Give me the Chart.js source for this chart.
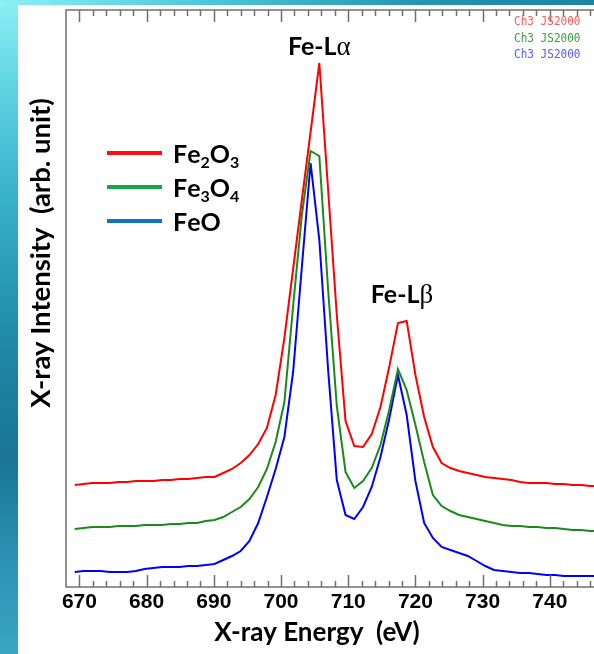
<!DOCTYPE html>
<html>
<head>
<meta charset="utf-8">
<script src="https://cdn.jsdelivr.net/npm/chart.js@4.4.1/dist/chart.umd.min.js"></script>
<style>
    html, body { margin: 0; padding: 0; }
    body {
        width: 594px; height: 654px; overflow: hidden; position: relative;
        background: linear-gradient(to bottom, #8cf0f5 0%, #63d6e4 12%, #38b2ca 30%, #2089a8 52%, #1a7495 70%, #2c93b6 86%, #3aa5c5 100%);
    }
    #topStrip {
        position: absolute; left: 0; top: 0; width: 594px; height: 5px;
        background: linear-gradient(to right, #8cf0f5 0%, #4cc6da 35%, #2596b0 70%, #1c84a2 100%);
    }
    #panel { position: absolute; left: 18px; top: 5px; width: 576px; height: 649px; background: #ffffff; }
    #spectrumChart { position: absolute; left: 0; top: 0; }
</style>
</head>
<body>
<div id="topStrip"></div>
<div id="panel"></div>
<canvas id="spectrumChart" width="640" height="654"></canvas>
<script>
// X-ray energy (eV) of each sample
const energy = [669.3, 670.6, 671.9, 673.2, 674.5, 675.8, 677.1, 678.4, 679.7, 681.0,
    682.3, 683.6, 684.9, 686.2, 687.5, 688.8, 690.1, 691.4, 692.7, 694.0,
    695.3, 696.6, 697.9, 699.2, 700.5, 701.8, 703.1, 704.4, 705.7, 707.0,
    708.3, 709.6, 710.9, 712.2, 713.5, 714.8, 716.1, 717.4, 718.7, 720.0,
    721.3, 722.6, 723.9, 725.2, 726.5, 727.8, 729.1, 730.4, 731.7, 733.0,
    734.3, 735.6, 736.9, 738.2, 739.5, 740.8, 742.1, 743.4, 744.7, 746.0, 747.3];

// intensities (arb. unit), curves already offset as in the figure
const fe2o3 = [102, 103, 104, 104, 104, 105, 105, 106, 106, 106,
    107, 107, 108, 108, 109, 110, 110, 114, 118, 124,
    132, 143, 159, 192, 249, 318, 387, 455, 524, 398,
    272, 166, 141, 140, 153, 180, 220, 264, 266, 212,
    170, 140, 124, 119, 116, 114, 112, 110, 109, 108,
    107, 105, 104, 104, 104, 103, 103, 102, 102, 101, 101];
const fe3o4 = [58, 59, 60, 60, 60, 61, 61, 61, 62, 62,
    62, 63, 63, 64, 64, 66, 67, 70, 75, 80,
    88, 100, 118, 145, 185, 281, 372, 436, 431, 298,
    181, 115, 99, 106, 119, 142, 177, 218, 197, 162,
    125, 92, 81, 76, 72, 70, 68, 66, 64, 62,
    61, 61, 60, 60, 59, 59, 58, 57, 57, 56, 56];
const feo = [15, 16, 16, 16, 15, 15, 15, 16, 18, 19,
    20, 20, 20, 21, 21, 22, 23, 27, 31, 36,
    46, 64, 90, 118, 150, 215, 320, 424, 347, 218,
    107, 72, 68, 80, 100, 130, 168, 212, 172, 106,
    64, 49, 40, 37, 34, 31, 26, 21, 17, 16,
    15, 14, 14, 13, 12, 12, 11, 11, 11, 11, 11];

const seriesNames = ["Fe2O3", "Fe3O4", "FeO"];
const lineColors = ["#ff0000", "#1a8a1a", "#0000ff"];
const legendColors = ["#ff1010", "#12a84a", "#1470c0"];
const xTickLabels = [670, 680, 690, 700, 710, 720, 730, 740];
const peakLabels = [
    { text: "Fe-L", greek: "\u03b1", energy: 705.7, intensity: 524 },
    { text: "Fe-L", greek: "\u03b2", energy: 718.0, intensity: 266 }
];
const stampLines = ["Ch3 JS2000", "Ch3 JS2000", "Ch3 JS2000"];
const stampColors = ["#ff5a5a", "#3c9c3c", "#5a5aff"];

const titleFont = "bold 25px Lato";

// draw a chemical formula, digits as subscripts
function drawFormula(ctx, text, x, y) {
    let cx = x;
    for (const ch of text) {
        const sub = /[0-9]/.test(ch);
        ctx.font = sub ? "bold 16px Lato" : titleFont;
        ctx.fillText(ch, cx, sub ? y + 5 : y);
        cx += ctx.measureText(ch).width;
    }
}

const framePlugin = {
    id: "frame",
    afterDraw(chart) {
        const { ctx, chartArea: a, scales: { x, y } } = chart;
        ctx.save();

        // plot frame
        ctx.strokeStyle = "#707070";
        ctx.lineWidth = 1.5;
        ctx.strokeRect(a.left, a.top, a.right - a.left, a.bottom - a.top);

        // inward ticks top and bottom
        for (let v = 670; v <= 750; v += 2) {
            const px = Math.round(x.getPixelForValue(v)) + 0.5;
            const len = v % 10 === 0 ? 12 : 6;
            ctx.beginPath();
            ctx.moveTo(px, a.bottom);
            ctx.lineTo(px, a.bottom - len);
            ctx.moveTo(px, a.top);
            ctx.lineTo(px, a.top + len);
            ctx.stroke();
        }

        // tick labels
        ctx.fillStyle = "#000";
        ctx.font = "bold 21px 'Liberation Sans'";
        ctx.textAlign = "center";
        ctx.textBaseline = "alphabetic";
        xTickLabels.forEach(v => ctx.fillText(String(v), x.getPixelForValue(v), a.bottom + 21));

        // axis titles
        ctx.font = "bold 26px Lato";
        ctx.fillText("X-ray Energy  (eV)", 317, 641);
        ctx.save();
        ctx.translate(50, 253);
        ctx.rotate(-Math.PI / 2);
        ctx.font = "bold 27.5px Lato";
        ctx.fillText("X-ray Intensity  (arb. unit)", 0, 0);
        ctx.restore();

        // legend
        ctx.textAlign = "left";
        seriesNames.forEach((name, i) => {
            const ly = 153 + i * 34;
            ctx.strokeStyle = legendColors[i];
            ctx.lineWidth = 4;
            ctx.beginPath();
            ctx.moveTo(107, ly);
            ctx.lineTo(162, ly);
            ctx.stroke();
            ctx.fillStyle = "#000";
            drawFormula(ctx, name, 173, ly + 10);
        });

        // peak labels
        ctx.fillStyle = "#000";
        peakLabels.forEach((p, i) => {
            ctx.font = titleFont;
            const w1 = ctx.measureText(p.text).width;
            ctx.font = "27px 'Liberation Serif'";
            const w2 = ctx.measureText(p.greek).width;
            const cx = x.getPixelForValue(p.energy);
            const by = y.getPixelForValue(p.intensity) - (i === 0 ? 8 : 18);
            const left = cx - (w1 + w2) / 2;
            ctx.font = titleFont;
            ctx.fillText(p.text, left, by);
            ctx.font = "27px 'Liberation Serif'";
            ctx.fillText(p.greek, left + w1, by);
        });

        // instrument stamp
        ctx.font = "12px 'DejaVu Sans Mono'";
        stampLines.forEach((s, i) => {
            ctx.save();
            ctx.translate(514, 25 + i * 16.5);
            ctx.scale(0.92, 1);
            ctx.fillStyle = stampColors[i];
            ctx.fillText(s, 0, 0);
            ctx.restore();
        });

        ctx.restore();
    }
};

new Chart(document.getElementById("spectrumChart").getContext("2d"), {
    type: "line",
    data: {
        datasets: [fe2o3, fe3o4, feo].map((vals, i) => ({
            label: seriesNames[i],
            data: vals.map((v, k) => ({ x: energy[k], y: v })),
            borderColor: lineColors[i],
            borderWidth: 2,
            pointRadius: 0,
            tension: 0,
            fill: false
        }))
    },
    options: {
        responsive: false,
        animation: false,
        devicePixelRatio: 1,
        layout: { padding: { left: 66, right: 23, top: 10, bottom: 67 } },
        plugins: { legend: { display: false }, tooltip: { enabled: false } },
        scales: {
            x: { type: "linear", min: 668, max: 750, display: false },
            y: { min: 0, max: 577, display: false }
        }
    },
    plugins: [framePlugin]
});
</script>
</body>
</html>
